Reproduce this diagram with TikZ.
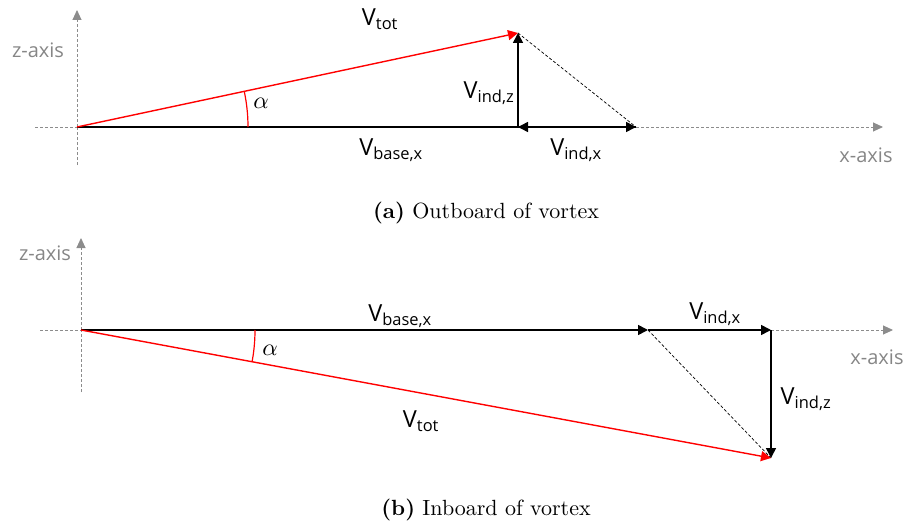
\documentclass[tikz,border=0pt]{standalone}
\usepackage{fontspec}
\newfontfamily\lab{Open Sans}
\newfontfamily\capfont{Latin Modern Roman}
\usetikzlibrary{arrows.meta}
\begin{document}
\begin{tikzpicture}[x=1pt,y=-1pt,
  axis/.style={draw=gray!90,densely dashed,line width=0.9pt,-{Triangle[length=10pt,width=9pt]}},
  axisline/.style={draw=gray!90,densely dashed,line width=0.9pt},
  axislabel/.style={text=gray!95,font=\lab\fontsize{20}{22}\selectfont,inner sep=0pt},
  vec/.style={draw=black,line width=1.6pt,-{Triangle[length=10pt,width=10pt]}},
  totvec/.style={draw=red,line width=1.4pt,-{Triangle[length=10pt,width=10pt]}},
  helper/.style={draw=black,densely dashed,line width=0.7pt},
  vlabel/.style={font=\lab\fontsize{23.5}{26}\selectfont,inner sep=0pt},
  alabel/.style={inner sep=0pt},
  captext/.style={inner sep=0pt}]
\useasboundingbox (0,0) rectangle (907,524);
% ---------- (a) ----------
\coordinate (oa) at (77,127);
\coordinate (zatop) at (77,10);
\coordinate (zabot) at (77,165);
\coordinate (xaleft) at (35,127);
\coordinate (xaright) at (883,127);
\coordinate (ba) at (636,127);
\coordinate (ia) at (518,127);
\coordinate (ta) at (518,33);
\draw[axisline] (zabot) -- (oa);
\draw[axis] (oa) -- (zatop);
\draw[axisline] (xaleft) -- (oa);
\draw[axis] (ba) -- (xaright);
\node[axislabel] (zla) at (38,50) {z-axis};
\node[axislabel] (xla) at (866,155) {x-axis};
\draw[vec] (oa) -- (ba);
\draw[vec] (ba) -- (ia);
\draw[vec] (ia) -- (ta);
\draw[helper] (ta) -- (ba);
\draw[totvec] (oa) -- (ta);
\draw[red,line width=1.2pt] ([shift={(0:171)}]oa) arc[start angle=0,end angle=-12.0,radius=171];
\node[alabel] (al) at (261,103) {\scalebox{2.4}{$\alpha$}};
\node[vlabel] (lta) at (380,19) {V\textsubscript{tot}};
\node[vlabel] (lba) at (391,150) {V\textsubscript{base,x}};
\node[vlabel] (lza) at (489,93) {V\textsubscript{ind,z}};
\node[vlabel] (lxa) at (576,150) {V\textsubscript{ind,x}};
\node[captext] (capa) at (486,213) {\scalebox{2.2}{\capfont\textbf{(a)} Outboard of vortex}};
% ---------- (b) ----------
\coordinate (ob) at (81,330);
\coordinate (zbtop) at (81,238);
\coordinate (zbbot) at (81,392);
\coordinate (xbleft) at (40,330);
\coordinate (xbright) at (893,330);
\coordinate (bb) at (648,330);
\coordinate (ib) at (771,330);
\coordinate (tb) at (771,458);
\draw[axisline] (zbbot) -- (ob);
\draw[axis] (ob) -- (zbtop);
\draw[axisline] (xbleft) -- (ob);
\draw[axis] (ib) -- (xbright);
\node[axislabel] (zlb) at (45,253) {z-axis};
\node[axislabel] (xlb) at (877,357) {x-axis};
\draw[vec] (ob) -- (bb);
\draw[vec] (bb) -- (ib);
\draw[vec] (ib) -- (tb);
\draw[helper] (bb) -- (tb);
\draw[totvec] (ob) -- (tb);
\draw[red,line width=1.2pt] ([shift={(0:174)}]ob) arc[start angle=0,end angle=10.5,radius=174];
\node[alabel] (bl) at (270,350) {\scalebox{2.4}{$\alpha$}};
\node[vlabel] (ltb) at (421,421) {V\textsubscript{tot}};
\node[vlabel] (lbb) at (400,316) {V\textsubscript{base,x}};
\node[vlabel] (lzb) at (806,399) {V\textsubscript{ind,z}};
\node[vlabel] (lxb) at (715,314) {V\textsubscript{ind,x}};
\node[captext] (capb) at (486,510) {\scalebox{2.2}{\capfont\textbf{(b)} Inboard of vortex}};
\end{tikzpicture}
\end{document}
